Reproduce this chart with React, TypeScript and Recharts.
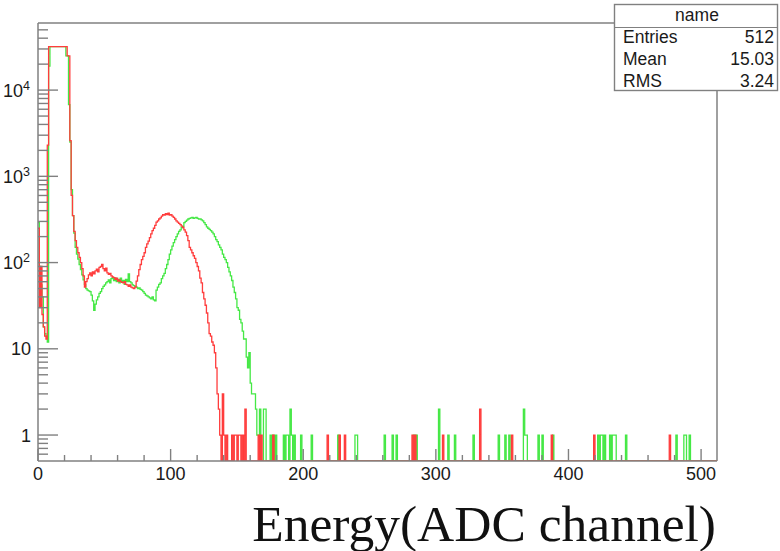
import React from 'react';
import { LineChart, Line, XAxis, YAxis, ReferenceLine } from 'recharts';

// ---- histogram setup ----
const N_CHANNELS = 512;
const Y_FLOOR = 0.5;
const Y_CEIL = 60000;

// Counts per ADC channel for the dense part of each spectrum (starting at channel 0)
const redCounts: number[] = [
  250, 30, 90, 25, 18, 14, 13, 2300,
  32000, 32000, 32000, 32000, 32000, 32000, 32000, 32000, 32000, 32000, 32000, 32000, 32000, 32000,
  25000, 25000, 2600,
  600, 350, 230, 180, 150, 130, 115, 100, 85, 70,
  52, 60, 65, 72, 76, 70, 78, 74, 80, 84,
  78, 88, 90, 95, 85, 80, 86, 76, 73, 75,
  70, 68, 67, 64, 66, 61, 63, 60, 59, 58,
  60, 56, 55, 53, 55, 52, 51, 50, 52, 61,
  70, 83, 95, 108, 118, 130, 150, 165, 177, 195,
  215, 235, 250, 270, 295, 305, 320, 330, 345, 360,
  355, 370, 360, 375, 355, 360, 345, 335, 320, 305,
  295, 285, 275, 265, 255, 240, 225, 205, 180, 150,
  140, 130, 120, 112, 100, 90, 80, 66, 58, 45,
  38, 32, 26, 20, 15, 14, 12, 11, 9, 6,
  3, 2, 1, 0, 3, 1, 0, 1, 0, 0,
  0, 1, 0, 1, 1, 0, 1, 1, 0, 1,
  0, 2,
];

const greenCounts: number[] = [
  290, 90, 55, 40, 18, 15, 14, 12,
  19000,
  32000, 32000, 32000, 32000, 32000, 32000, 32000, 32000, 32000, 32000, 32000, 32000,
  25000, 25000, 6800, 2500,
  700, 350, 220, 150, 125, 110, 95, 83, 72, 63,
  56, 50, 48, 47, 46, 42, 36, 28, 33, 37,
  40, 44, 46, 50, 53, 55, 58, 60, 63, 58,
  65, 67, 62, 66, 60, 64, 58, 66, 60, 62,
  56, 64, 60, 74, 60, 58, 55, 54, 53, 52,
  50, 51, 49, 48, 46, 44, 42, 41, 40, 39,
  38, 40, 37, 36, 48, 52, 56, 58, 65, 70,
  75, 85, 95, 108, 125, 140, 155, 170, 185, 200,
  215, 230, 240, 255, 262, 290, 300, 310, 320, 325,
  330, 335, 325, 330, 335, 325, 320, 322, 312, 305,
  290, 275, 260, 250, 242, 235, 225, 215, 200, 185,
  175, 160, 150, 140, 125, 115, 108, 100, 88, 78,
  70, 62, 52, 45, 38, 30, 28, 22, 20, 16,
  13, 13, 8, 6, 9, 4, 3, 3, 3, 2,
  1, 1, 2, 0, 0, 2, 2,
];

// Isolated single hits further up the spectrum: [channel, count]
const redSparse: [number, number][] = [
  [166, 1], [168, 1], [177, 1], [218, 1], [227, 1], [231, 1], [282, 1], [284, 1],
  [305, 1], [333, 2], [357, 1], [387, 1], [419, 1], [476, 1],
];

const greenSparse: [number, number][] = [
  [175, 1], [177, 1], [179, 1], [185, 1], [187, 1], [188, 1], [190, 2], [191, 1],
  [193, 1], [198, 1], [206, 1], [226, 1], [239, 1], [240, 1], [261, 1], [267, 1],
  [270, 1], [283, 1], [285, 1], [302, 2], [309, 1], [314, 1], [328, 1], [347, 1],
  [352, 1], [355, 1], [366, 2], [367, 1], [368, 1], [377, 1], [380, 1], [388, 1],
  [422, 1], [424, 1], [425, 1], [427, 1], [431, 1], [433, 1], [434, 1], [435, 1],
  [443, 1], [481, 1], [487, 1], [488, 1], [491, 1],
];

// Axis ticks
const xTicks = [
  0, 20, 40, 60, 80, 100, 120, 140, 160, 180, 200, 220, 240, 260, 280,
  300, 320, 340, 360, 380, 400, 420, 440, 460, 480, 500,
];
const xLabelled = [0, 100, 200, 300, 400, 500];
const yDecades = [1, 10, 100, 1000, 10000];
const yMinorSteps = [2, 3, 4, 5, 6, 7, 8, 9];
const yBelowOne = [0.6, 0.7, 0.8, 0.9];
const yAboveTop = [20000, 30000, 40000, 50000];

// Statistics box
const statsTitle = 'name';
const statsRows: [string, string][] = [
  ['Entries', '512'],
  ['Mean', '15.03'],
  ['RMS', '3.24'],
];
const xTitle = 'Energy(ADC channel)';

// ---- build chart rows ----
function fullSpectrum(dense: number[], sparse: [number, number][]): number[] {
  const bins: number[] = new Array(N_CHANNELS).fill(0);
  dense.forEach((v, i) => { bins[i] = v; });
  sparse.forEach(([ch, v]) => { bins[ch] = v; });
  return bins;
}

const redBins = fullSpectrum(redCounts, redSparse);
const greenBins = fullSpectrum(greenCounts, greenSparse);

// empty bins sit on the bottom of the log frame
const shown = (v: number) => (v > 0 ? v : Y_FLOOR);

const rows = redBins.map((r, i) => ({ ch: i, red: shown(r), green: shown(greenBins[i]) }));
rows.push({ ch: N_CHANNELS, red: shown(redBins[N_CHANNELS - 1]), green: shown(greenBins[N_CHANNELS - 1]) });

const yTicks: number[] = [...yBelowOne];
yDecades.forEach((d) => {
  yTicks.push(d);
  if (d < 10000) yMinorSteps.forEach((m) => yTicks.push(d * m));
});
yTicks.push(...yAboveTop);

// ---- styling ----
const AXIS = '#808080';
const LABEL = '#1a1a1a';
const SANS = '"Liberation Sans", Arial, Helvetica, sans-serif';
const RED = '#ff3c3c';
const GREEN = '#45e845';

function YTick(props: any) {
  const { x, y, payload } = props;
  const v: number = payload.value;
  const major = yDecades.includes(v);
  const len = major ? 20 : 10;
  const exp = Math.round(Math.log10(v));
  return (
    <g>
      <line x1={x} x2={x + len} y1={y} y2={y} stroke={AXIS} strokeWidth={1.4} />
      {major && exp < 2 && (
        <text x={x - 7} y={y} dy="0.36em" textAnchor="end" fontFamily={SANS} fontSize={18} fill={LABEL}>
          {v}
        </text>
      )}
      {major && exp >= 2 && (
        <text x={x - 8} y={y} dy="0.36em" textAnchor="end" fontFamily={SANS} fontSize={18} fill={LABEL}>
          10
          <tspan dy={-7} fontSize={12.5}>{exp}</tspan>
        </text>
      )}
    </g>
  );
}

function XTick(props: any) {
  const { x, y, payload } = props;
  const v: number = payload.value;
  const major = xLabelled.includes(v);
  const len = major ? 12 : 6;
  return (
    <g>
      <line x1={x} x2={x} y1={y} y2={y - len} stroke={AXIS} strokeWidth={1.4} />
      {major && (
        <text x={x} y={y + 13} dy="0.36em" textAnchor="middle" fontFamily={SANS} fontSize={18} fill={LABEL}>
          {v}
        </text>
      )}
    </g>
  );
}

export default function App() {
  return (
    <div style={{ position: 'absolute', left: 0, top: 0, width: 780, height: 551, background: '#ffffff' }}>
      <LineChart width={780} height={551} data={rows} margin={{ top: 23, right: 63, bottom: 0, left: 0 }}>
        <XAxis
          dataKey="ch"
          type="number"
          domain={[0, N_CHANNELS]}
          allowDataOverflow
          ticks={xTicks}
          interval={0}
          height={90}
          tickSize={0}
          tickMargin={0}
          tick={<XTick />}
          axisLine={{ stroke: AXIS, strokeWidth: 1.5 }}
        />
        <YAxis
          type="number"
          scale="log"
          domain={[Y_FLOOR, Y_CEIL]}
          allowDataOverflow
          ticks={yTicks}
          interval={0}
          width={38}
          tickSize={0}
          tickMargin={0}
          tick={<YTick />}
          axisLine={{ stroke: AXIS, strokeWidth: 1.5 }}
        />
        <ReferenceLine y={Y_CEIL} stroke={AXIS} strokeWidth={1.5} />
        <ReferenceLine x={N_CHANNELS} stroke={AXIS} strokeWidth={1.5} />
        <Line
          dataKey="green"
          type="stepAfter"
          stroke={GREEN}
          strokeWidth={1.3}
          dot={false}
          activeDot={false}
          isAnimationActive={false}
        />
        <Line
          dataKey="red"
          type="stepAfter"
          stroke={RED}
          strokeWidth={1.3}
          dot={false}
          activeDot={false}
          isAnimationActive={false}
        />
      </LineChart>
      <svg
        width={780}
        height={551}
        style={{ position: 'absolute', left: 0, top: 0, pointerEvents: 'none' }}
      >
        <rect x={614.5} y={4.5} width={163} height={86} fill="#ffffff" stroke={AXIS} strokeWidth={1.4} />
        <line x1={614.5} x2={777.5} y1={27.5} y2={27.5} stroke={AXIS} strokeWidth={1.2} />
        <text x={697} y={21} textAnchor="middle" fontFamily={SANS} fontSize={17.5} fill={LABEL}>
          {statsTitle}
        </text>
        {statsRows.map(([k, v], i) => (
          <g key={k}>
            <text x={623} y={43 + i * 22} fontFamily={SANS} fontSize={17.5} fill={LABEL}>{k}</text>
            <text x={774} y={43 + i * 22} textAnchor="end" fontFamily={SANS} fontSize={17.5} fill={LABEL}>{v}</text>
          </g>
        ))}
        <text
          x={716}
          y={541}
          textAnchor="end"
          fontFamily='"Liberation Serif", "DejaVu Serif", serif'
          fontSize={51.5}
          fill="#111111"
        >
          {xTitle}
        </text>
      </svg>
    </div>
  );
}
